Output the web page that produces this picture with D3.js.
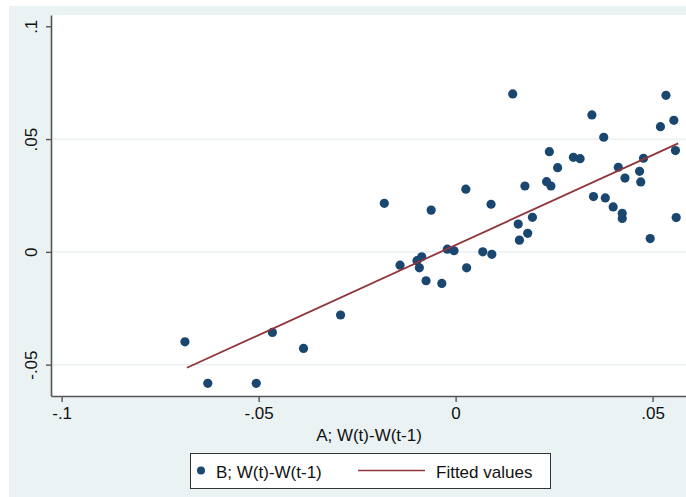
<!DOCTYPE html>
<html>
<head>
<meta charset="utf-8">
<script src="https://cdn.jsdelivr.net/npm/d3@7"></script>
<style>
  body { margin: 0; background: #fff; }
  text { font-family: "Liberation Sans", Arial, sans-serif; fill: #111; }
</style>
</head>
<body>
<div class="chart"></div>
<script>
// A; W(t)-W(t-1) (x) vs B; W(t)-W(t-1) (y)
var xVals = [-0.0687, -0.0629, -0.0506, -0.0465, -0.0386, -0.0292, -0.0181, -0.0141, -0.0098, -0.0086,
             -0.0092, -0.0075, -0.0062, -0.0035, -0.0021, -0.0004, 0.0026, 0.0028, 0.0069, 0.0092,
             0.0090, 0.0145, 0.0159, 0.0162, 0.0176, 0.0183, 0.0195, 0.0231, 0.0238, 0.0242,
             0.0259, 0.0299, 0.0316, 0.0346, 0.0350, 0.0376, 0.0380, 0.0400, 0.0413, 0.0423,
             0.0423, 0.0430, 0.0467, 0.0470, 0.0477, 0.0494, 0.0520, 0.0534, 0.0554, 0.0558, 0.0560];
var yVals = [-0.0399, -0.0583, -0.0583, -0.0357, -0.0428, -0.0280, 0.0215, -0.0059, -0.0039, -0.0022,
             -0.0071, -0.0128, 0.0185, -0.0140, 0.0012, 0.0005, 0.0278, -0.0071, 0.0000, -0.0011,
             0.0211, 0.0700, 0.0123, 0.0052, 0.0292, 0.0082, 0.0153, 0.0311, 0.0444, 0.0292,
             0.0373, 0.0419, 0.0413, 0.0607, 0.0245, 0.0508, 0.0239, 0.0199, 0.0375, 0.0171,
             0.0148, 0.0327, 0.0357, 0.0310, 0.0415, 0.0059, 0.0555, 0.0694, 0.0583, 0.0449, 0.0152];

// fitted line end points
var fitX = [-0.0682, 0.0565];
var fitY = [-0.0514, 0.0481];

var xTicks = [-0.1, -0.05, 0, 0.05];
var xTickLabels = ["-.1", "-.05", "0", ".05"];
var yTicks = [-0.05, 0, 0.05, 0.1];
var yTickLabels = ["-.05", "0", ".05", ".1"];
var gridTicks = [-0.05, 0, 0.05];

var W = 686, H = 497;
var plot = {left: 51, right: 690, top: 15, bottom: 396};

var svg = d3.select(".chart").append("svg")
    .attr("width", W)
    .attr("height", H);

// outer (graph region) background
svg.append("rect")
    .attr("x", 9).attr("y", 6)
    .attr("width", W - 9).attr("height", H - 6)
    .attr("fill", "#eaf2f3");

var x = d3.scaleLinear()
    .domain([-0.1027, 0.0595])
    .range([plot.left, plot.right]);

var y = d3.scaleLinear()
    .domain([-0.0639, 0.1050])
    .range([plot.bottom, plot.top]);

svg.append("rect")
    .attr("x", plot.left).attr("y", plot.top)
    .attr("width", plot.right - plot.left)
    .attr("height", plot.bottom - plot.top)
    .attr("fill", "#fff");

// grid
svg.append("g").selectAll("line")
    .data(gridTicks)
  .enter().append("line")
    .attr("x1", plot.left).attr("x2", plot.right)
    .attr("y1", d => y(d)).attr("y2", d => y(d))
    .attr("stroke", "#e6eef0")
    .attr("stroke-width", 1.2);

// points
svg.append("g").selectAll("circle")
    .data(xVals.map((v, i) => ({x: v, y: yVals[i]})))
  .enter().append("circle")
    .attr("cx", d => x(d.x))
    .attr("cy", d => y(d.y))
    .attr("r", 4.6)
    .attr("fill", "#1a476f");

// fitted line
svg.append("path")
    .datum(fitX.map((v, i) => [v, fitY[i]]))
    .attr("d", d3.line().x(d => x(d[0])).y(d => y(d[1])))
    .attr("fill", "none")
    .attr("stroke", "#90353b")
    .attr("stroke-width", 1.8);

// axes
var xAxis = svg.append("g")
    .attr("transform", "translate(0," + plot.bottom + ")")
    .call(d3.axisBottom(x).tickValues(xTicks)
        .tickFormat((d, i) => xTickLabels[i])
        .tickSizeInner(6).tickSizeOuter(0).tickPadding(5));
xAxis.select(".domain").attr("stroke", "#555").attr("stroke-width", 1.6);
xAxis.selectAll(".tick line").attr("stroke", "#555").attr("stroke-width", 1.4);
xAxis.selectAll(".tick text")
    .attr("font-size", 17)
    .attr("fill", "#111")
    .style("font-family", "'Liberation Sans', Arial, sans-serif");

var yAxis = svg.append("g")
    .attr("transform", "translate(" + plot.left + ",0)")
    .call(d3.axisLeft(y).tickValues(yTicks)
        .tickFormat((d, i) => yTickLabels[i])
        .tickSizeInner(5).tickSizeOuter(0));
yAxis.select(".domain").attr("stroke", "#555").attr("stroke-width", 1.6);
yAxis.selectAll(".tick line").attr("stroke", "#555").attr("stroke-width", 1.4);
yAxis.selectAll(".tick text")
    .attr("x", null).attr("dy", null)
    .attr("transform", "translate(-14,0) rotate(-90)")
    .attr("text-anchor", "middle")
    .attr("font-size", 17)
    .attr("fill", "#111")
    .style("font-family", "'Liberation Sans', Arial, sans-serif");

// x title
svg.append("text")
    .attr("x", 369).attr("y", 441)
    .attr("text-anchor", "middle")
    .attr("font-size", 17)
    .text("A; W(t)-W(t-1)");

// legend
var legend = svg.append("g");
legend.append("rect")
    .attr("x", 190.5).attr("y", 453.5)
    .attr("width", 360).attr("height", 35)
    .attr("fill", "#fff")
    .attr("stroke", "#333")
    .attr("stroke-width", 1);
legend.append("circle")
    .attr("cx", 201).attr("cy", 470.5)
    .attr("r", 4)
    .attr("fill", "#1a476f");
legend.append("text")
    .attr("x", 216).attr("y", 478)
    .attr("font-size", 17)
    .text("B; W(t)-W(t-1)");
legend.append("line")
    .attr("x1", 358).attr("x2", 425)
    .attr("y1", 470.5).attr("y2", 470.5)
    .attr("stroke", "#90353b")
    .attr("stroke-width", 1.5);
legend.append("text")
    .attr("x", 436).attr("y", 478)
    .attr("font-size", 17)
    .text("Fitted values");
</script>
</body>
</html>
